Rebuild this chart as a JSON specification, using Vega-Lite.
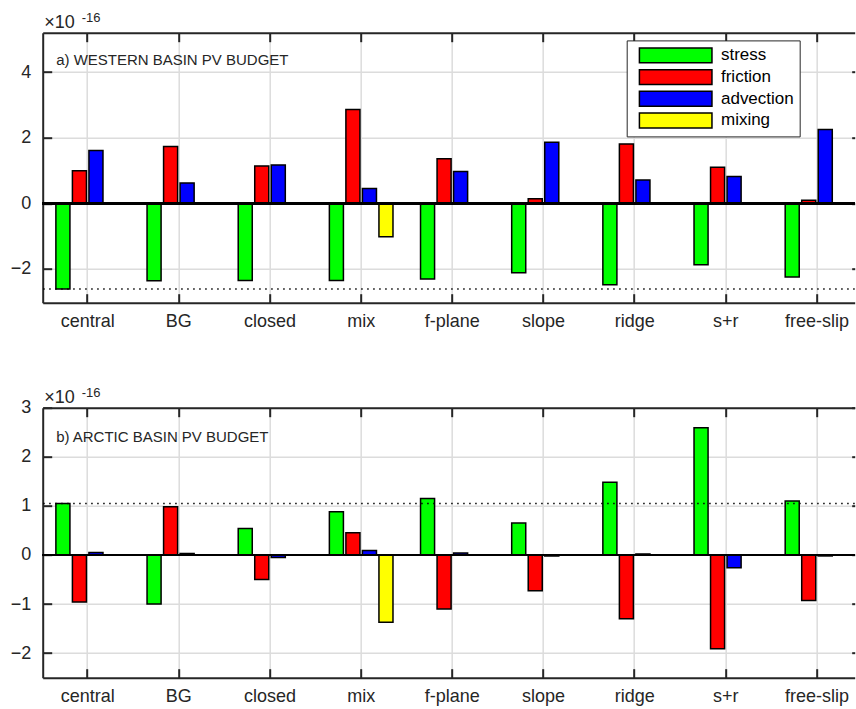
{
  "$schema": "https://vega.github.io/schema/vega-lite/v6.json",
  "background": "white",
  "padding": {"left": 9.7, "top": 11.7, "right": 0, "bottom": 0},
  "datasets": {
    "west": [
      {"case": "central", "term": "stress", "value": -2.61},
      {"case": "central", "term": "friction", "value": 0.99},
      {"case": "central", "term": "advection", "value": 1.61},
      {"case": "central", "term": "mixing", "value": 0},
      {"case": "BG", "term": "stress", "value": -2.36},
      {"case": "BG", "term": "friction", "value": 1.73},
      {"case": "BG", "term": "advection", "value": 0.62},
      {"case": "BG", "term": "mixing", "value": 0},
      {"case": "closed", "term": "stress", "value": -2.35},
      {"case": "closed", "term": "friction", "value": 1.14},
      {"case": "closed", "term": "advection", "value": 1.17},
      {"case": "closed", "term": "mixing", "value": 0},
      {"case": "mix", "term": "stress", "value": -2.35},
      {"case": "mix", "term": "friction", "value": 2.86},
      {"case": "mix", "term": "advection", "value": 0.45},
      {"case": "mix", "term": "mixing", "value": -1.02},
      {"case": "f-plane", "term": "stress", "value": -2.31},
      {"case": "f-plane", "term": "friction", "value": 1.36},
      {"case": "f-plane", "term": "advection", "value": 0.97},
      {"case": "f-plane", "term": "mixing", "value": 0},
      {"case": "slope", "term": "stress", "value": -2.12},
      {"case": "slope", "term": "friction", "value": 0.14},
      {"case": "slope", "term": "advection", "value": 1.86},
      {"case": "slope", "term": "mixing", "value": 0},
      {"case": "ridge", "term": "stress", "value": -2.48},
      {"case": "ridge", "term": "friction", "value": 1.81},
      {"case": "ridge", "term": "advection", "value": 0.71},
      {"case": "ridge", "term": "mixing", "value": 0},
      {"case": "s+r", "term": "stress", "value": -1.87},
      {"case": "s+r", "term": "friction", "value": 1.10},
      {"case": "s+r", "term": "advection", "value": 0.82},
      {"case": "s+r", "term": "mixing", "value": 0},
      {"case": "free-slip", "term": "stress", "value": -2.25},
      {"case": "free-slip", "term": "friction", "value": 0.09},
      {"case": "free-slip", "term": "advection", "value": 2.25},
      {"case": "free-slip", "term": "mixing", "value": 0}
    ],
    "arctic": [
      {"case": "central", "term": "stress", "value": 1.05},
      {"case": "central", "term": "friction", "value": -0.96},
      {"case": "central", "term": "advection", "value": 0.05},
      {"case": "central", "term": "mixing", "value": 0},
      {"case": "BG", "term": "stress", "value": -1.0},
      {"case": "BG", "term": "friction", "value": 0.98},
      {"case": "BG", "term": "advection", "value": 0.03},
      {"case": "BG", "term": "mixing", "value": 0},
      {"case": "closed", "term": "stress", "value": 0.54},
      {"case": "closed", "term": "friction", "value": -0.50},
      {"case": "closed", "term": "advection", "value": -0.05},
      {"case": "closed", "term": "mixing", "value": 0},
      {"case": "mix", "term": "stress", "value": 0.88},
      {"case": "mix", "term": "friction", "value": 0.45},
      {"case": "mix", "term": "advection", "value": 0.09},
      {"case": "mix", "term": "mixing", "value": -1.37},
      {"case": "f-plane", "term": "stress", "value": 1.15},
      {"case": "f-plane", "term": "friction", "value": -1.10},
      {"case": "f-plane", "term": "advection", "value": 0.04},
      {"case": "f-plane", "term": "mixing", "value": 0},
      {"case": "slope", "term": "stress", "value": 0.65},
      {"case": "slope", "term": "friction", "value": -0.73},
      {"case": "slope", "term": "advection", "value": -0.02},
      {"case": "slope", "term": "mixing", "value": 0},
      {"case": "ridge", "term": "stress", "value": 1.48},
      {"case": "ridge", "term": "friction", "value": -1.30},
      {"case": "ridge", "term": "advection", "value": 0.02},
      {"case": "ridge", "term": "mixing", "value": 0},
      {"case": "s+r", "term": "stress", "value": 2.59},
      {"case": "s+r", "term": "friction", "value": -1.91},
      {"case": "s+r", "term": "advection", "value": -0.26},
      {"case": "s+r", "term": "mixing", "value": 0},
      {"case": "free-slip", "term": "stress", "value": 1.10},
      {"case": "free-slip", "term": "friction", "value": -0.93},
      {"case": "free-slip", "term": "advection", "value": -0.02},
      {"case": "free-slip", "term": "mixing", "value": 0}
    ]
  },
  "config": {
    "font": "Liberation Sans",
    "view": {"stroke": null},
    "axis": {
      "domainColor": "#262626", "domainWidth": 2,
      "tickColor": "#262626", "tickWidth": 2,
      "gridColor": "#dcdcdc", "gridWidth": 1.5,
      "labelColor": "#262626", "labelFontSize": 18, "labelFont": "Liberation Sans",
      "titleColor": "#262626", "titleFont": "Liberation Sans", "titleFontWeight": "normal"
    },
    "title": {"font": "Liberation Sans", "fontWeight": "normal", "color": "#262626"}
  },
  "bounds": "flush",
  "spacing": 105,
  "resolve": {"scale": {"color": "shared"}},
  "vconcat": [
    {
      "width": 812, "height": 270,
      "data": {"name": "west"},
      "title": {"text": "-16", "anchor": "start", "frame": "group", "fontSize": 13, "dx": 39, "dy": 11, "offset": 0},
      "layer": [
        {
          "mark": {"type": "bar", "stroke": "#000000", "strokeWidth": 1.5},
          "encoding": {
            "x": {"field": "case", "type": "nominal", "sort": ["central","BG","closed","mix","f-plane","slope","ridge","s+r","free-slip"],
              "scale": {"domain": ["central","BG","closed","mix","f-plane","slope","ridge","s+r","free-slip"], "paddingInner": 0.275, "paddingOuter": 0.091, "align": 0.72},
              "axis": {"orient": "bottom", "title": null, "labelAngle": 0, "bandPosition": 0.5, "grid": true, "tickSize": -9, "labelPadding": 19, "labelBaseline": "top"}},
            "xOffset": {"field": "term", "type": "nominal", "sort": ["stress","friction","advection","mixing"],
              "scale": {"domain": ["stress","friction","advection","mixing"], "paddingInner": 0.15, "paddingOuter": 0.075}},
            "y": {"field": "value", "type": "quantitative",
              "scale": {"domain": [-3.03, 5.2], "nice": false, "zero": false},
              "axis": {"orient": "left", "values": [-2, 0, 2, 4], "grid": true, "tickSize": -9, "labelPadding": 21,
                "title": "×10", "titleAngle": 0, "titleAlign": "left", "titleBaseline": "alphabetic", "titleX": 1, "titleY": -5, "titleFontSize": 18}},
            "color": {"field": "term", "type": "nominal",
              "scale": {"domain": ["stress","friction","advection","mixing"], "range": ["#00ff00","#ff0000","#0000ff","#ffff00"]},
              "legend": {"orient": "none", "legendX": 584, "legendY": 7.7, "title": null,
                "symbolType": "M-4,-0.82L4,-0.82L4,0.82L-4,0.82Z", "symbolSize": 329,
                "symbolStrokeColor": "#000000", "symbolStrokeWidth": 1.5, "symbolOpacity": 1, "symbolOffset": 34,
                "labelFontSize": 17, "labelColor": "#000000", "labelFont": "Liberation Sans", "labelExpr": "datum.label + '\u00a0\u00a0'",
                "strokeColor": "#262626", "fillColor": "white", "padding": 5, "rowPadding": -0.3, "labelOffset": 35.3}}
          }
        },
        {
          "mark": {"type": "rule", "color": "#000000", "strokeWidth": 2},
          "encoding": {"y": {"datum": 0, "type": "quantitative", "axis": null}}
        },
        {
          "transform": [{"filter": "datum.case == 'central' && datum.term == 'stress'"}],
          "mark": {"type": "rule", "color": "#000000", "strokeWidth": 1.5, "strokeDash": [1.5, 4.5]},
          "encoding": {"y": {"field": "value", "type": "quantitative", "axis": null}}
        },
        {
          "data": {"values": [{}]},
          "mark": {"type": "text", "align": "left", "baseline": "middle", "fontSize": 15, "color": "#262626", "dx": 1.5},
          "encoding": {
            "x": {"datum": "central", "type": "nominal", "bandPosition": 0, "axis": null},
            "y": {"datum": 4.38, "type": "quantitative", "axis": null},
            "text": {"value": "a) WESTERN BASIN PV BUDGET"}
          }
        },
        {
          "mark": {"type": "point", "opacity": 0},
          "encoding": {
            "x": {"field": "case", "type": "nominal", "axis": {"orient": "top", "labels": false, "grid": false, "tickSize": -9, "title": null, "bandPosition": 0.5}},
            "y": {"field": "value", "type": "quantitative", "axis": {"orient": "right", "labels": false, "grid": false, "domain": false, "tickSize": -3, "values": [-2, 0, 2, 4], "title": null}}
          }
        }
      ],
      "resolve": {"axis": {"x": "independent", "y": "independent"}}
    },
    {
      "width": 812, "height": 270,
      "data": {"name": "arctic"},
      "title": {"text": "-16", "anchor": "start", "frame": "group", "fontSize": 13, "dx": 39, "dy": 11, "offset": 0},
      "layer": [
        {
          "mark": {"type": "bar", "stroke": "#000000", "strokeWidth": 1.5},
          "encoding": {
            "x": {"field": "case", "type": "nominal", "sort": ["central","BG","closed","mix","f-plane","slope","ridge","s+r","free-slip"],
              "scale": {"domain": ["central","BG","closed","mix","f-plane","slope","ridge","s+r","free-slip"], "paddingInner": 0.275, "paddingOuter": 0.091, "align": 0.72},
              "axis": {"orient": "bottom", "title": null, "labelAngle": 0, "bandPosition": 0.5, "grid": true, "tickSize": -9, "labelPadding": 19, "labelBaseline": "top"}},
            "xOffset": {"field": "term", "type": "nominal", "sort": ["stress","friction","advection","mixing"],
              "scale": {"domain": ["stress","friction","advection","mixing"], "paddingInner": 0.15, "paddingOuter": 0.075}},
            "y": {"field": "value", "type": "quantitative",
              "scale": {"domain": [-2.5, 3], "nice": false, "zero": false},
              "axis": {"orient": "left", "values": [-2, -1, 0, 1, 2, 3], "grid": true, "tickSize": -9, "labelPadding": 21,
                "title": "×10", "titleAngle": 0, "titleAlign": "left", "titleBaseline": "alphabetic", "titleX": 1, "titleY": -5, "titleFontSize": 18}},
            "color": {"field": "term", "type": "nominal", "legend": null}
          }
        },
        {
          "mark": {"type": "rule", "color": "#000000", "strokeWidth": 2},
          "encoding": {"y": {"datum": 0, "type": "quantitative", "axis": null}}
        },
        {
          "transform": [{"filter": "datum.case == 'central' && datum.term == 'stress'"}],
          "mark": {"type": "rule", "color": "#000000", "strokeWidth": 1.5, "strokeDash": [1.5, 4.5]},
          "encoding": {"y": {"field": "value", "type": "quantitative", "axis": null}}
        },
        {
          "data": {"values": [{}]},
          "mark": {"type": "text", "align": "left", "baseline": "middle", "fontSize": 15, "color": "#262626", "dx": 1.5},
          "encoding": {
            "x": {"datum": "central", "type": "nominal", "bandPosition": 0, "axis": null},
            "y": {"datum": 2.41, "type": "quantitative", "axis": null},
            "text": {"value": "b) ARCTIC BASIN PV BUDGET"}
          }
        },
        {
          "mark": {"type": "point", "opacity": 0},
          "encoding": {
            "x": {"field": "case", "type": "nominal", "axis": {"orient": "top", "labels": false, "grid": false, "tickSize": -9, "title": null, "bandPosition": 0.5}},
            "y": {"field": "value", "type": "quantitative", "axis": {"orient": "right", "labels": false, "grid": false, "domain": false, "tickSize": -3, "values": [-2, -1, 0, 1, 2, 3], "title": null}}
          }
        }
      ],
      "resolve": {"axis": {"x": "independent", "y": "independent"}}
    }
  ]
}
